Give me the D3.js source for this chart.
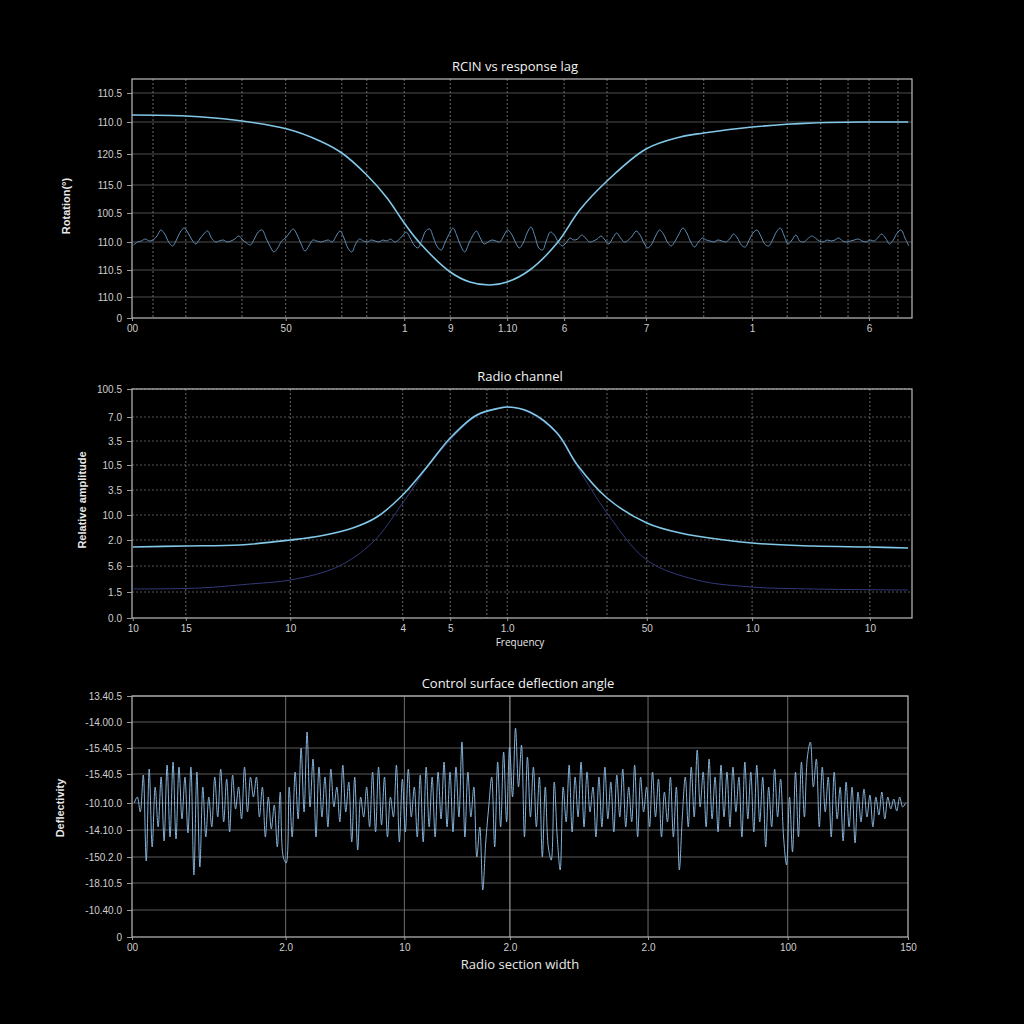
<!DOCTYPE html>
<html>
<head>
<meta charset="utf-8">
<script src="https://cdn.jsdelivr.net/npm/d3@7"></script>
<style>
  html, body { margin: 0; background: #000; }
  svg { display: block; }
  .tick text { fill: #cfcfcf; font-family: "Liberation Sans Narrow", "Liberation Sans", sans-serif; font-size: 10px; }
  .domain { display: none; }
  .tick line { stroke: #9a9a9a; }
  .title { fill: #f2f2f2; font-family: "Open Sans", "Noto Sans", sans-serif; font-size: 13px; }
  .ylab { fill: #e8e8e8; font-family: "Liberation Sans Narrow", "Liberation Sans", sans-serif; font-size: 11px; font-weight: bold; }
  .xlab { fill: #e8e8e8; font-family: "Open Sans", "Noto Sans", sans-serif; }
</style>
</head>
<body>
<svg id="chart" width="1024" height="1024"></svg>
<script>
// ─── Panel 1: RCIN vs response lag ───────────────────────────
const p1YTicks = [0, 21, 48, 76, 105, 133, 164, 196, 225];
const p1YLabels = ["0", "110.0", "110.5", "110.0", "100.5", "115.0", "120.5", "110.0", "110.5"];
const p1XTicks = [0, 19.7, 34.9, 40.8, 48.1, 55.4, 65.9, 79.5, 94.5];
const p1XLabels = ["00", "50", "1", "9", "1.10", "6", "7", "1", "6"];
const p1XGrid = [2.7, 6.9, 14.1, 19.7, 26.9, 30.1, 34.9, 40.8, 48.1, 55.4, 60.9, 65.9, 73.3, 79.5, 84.0, 88.3, 91.8, 94.5, 98.2];

// lag curve (x, level)
const p1CurveX = [0, 6.9, 13.1, 19.9, 24.1, 26.9, 30.1, 32.7, 34.9, 36.9, 40.8, 43.3, 45.9, 48.1, 51.0, 54.5, 57.4, 60.9, 65.9, 70.3, 73.3, 79.5, 87.3, 94.5, 99.5];
const p1CurveY = [203, 202, 198, 189, 177, 165, 143, 120, 95, 75, 46, 36, 33, 36, 48, 75, 108, 137, 169, 181, 185, 191, 195, 196, 196];

// RCIN noise samples (evenly spaced)
const p1Noise = [
  73, 76, 77, 79, 77, 78, 82, 88, 84, 76, 72, 78, 86, 90, 85, 78, 74, 79, 84, 87,
  80, 76, 77, 78, 76, 77, 79, 82, 78, 75, 73, 79, 86, 88, 80, 72, 66, 70, 77, 80,
  85, 89, 83, 74, 67, 72, 78, 77, 76, 77, 78, 76, 82, 87, 80, 70, 66, 74, 79, 77,
  76, 78, 77, 76, 78, 77, 79, 76, 78, 82, 86, 80, 73, 70, 78, 87, 89, 80, 71, 68,
  76, 84, 90, 82, 72, 66, 74, 82, 87, 80, 74, 76, 78, 77, 76, 82, 88, 84, 76, 70,
  75, 85, 91, 82, 70, 68, 78, 86, 83, 76, 72, 75, 80, 78, 79, 83, 80, 76, 77, 79,
  82, 78, 74, 80, 85, 80, 76, 78, 82, 87, 83, 75, 70, 74, 82, 88, 84, 76, 72, 77,
  84, 90, 85, 76, 71, 76, 80, 78, 77, 76, 78, 77, 76, 79, 84, 80, 73, 71, 78, 85,
  88, 82, 74, 72, 78, 86, 90, 82, 74, 78, 83, 77, 76, 79, 82, 80, 77, 76, 78, 77,
  78, 80, 77, 76, 77, 78, 79, 77, 76, 78, 77, 80, 84, 80, 74, 78, 85, 88, 80, 72
];

// ─── Panel 2: Radio channel ──────────────────────────────────
const p2YTicks = [0, 26, 52, 78, 103, 128, 153, 177, 201, 229];
const p2YLabels = ["0.0", "1.5", "5.6", "2.0", "10.0", "3.5", "10.5", "3.5", "7.0", "100.5"];
const p2XTicks = [0.1, 6.9, 20.3, 34.7, 40.8, 48.1, 66.0, 79.5, 94.6];
const p2XLabels = ["10", "15", "10", "4", "5", "1.0", "50", "1.0", "10"];
const p2XGrid = [6.9, 20.3, 34.7, 40.8, 45.5, 48.1, 60.9, 66.0, 79.5, 94.6];

const p2WideX = [0.1, 6.8, 13.8, 20.3, 24.1, 28.3, 31.4, 34.7, 37.8, 40.8, 44.2, 47.2, 48.1, 51.0, 54.5, 57.1, 60.9, 66.0, 70.3, 79.5, 87.3, 94.6, 99.5];
const p2WideY = [71, 72, 73, 78, 82, 90, 101, 123, 151, 180, 203, 210, 211, 206, 185, 153, 120, 95, 85, 75, 72, 71, 70];
const p2NarrowX = [0.1, 8.7, 15.1, 20.3, 26.3, 30.9, 34.7, 37.8, 40.8, 44.2, 48.1, 51.0, 54.5, 57.1, 60.9, 66.0, 72.4, 79.5, 87.3, 99.5];
const p2NarrowY = [29, 30, 34, 38, 51, 76, 115, 150, 178, 202, 211, 205, 184, 151, 105, 58, 38, 31, 29, 28];

// ─── Panel 3: Control surface deflection angle ───────────────
const p3YTicks = [0, 27, 54, 80, 107, 134, 163, 189, 215, 241];
const p3YLabels = ["0", "-10.40.0", "-18.10.5", "-150.2.0", "-14.10.0", "-10.10.0", "-15.40.5", "-15.40.5", "-14.00.0", "13.40.5"];
const p3XTicks = [0, 19.8, 35.1, 48.7, 66.5, 84.5, 100];
const p3XLabels = ["00", "2.0", "10", "2.0", "2.0", "100", "150"];
const p3XGrid = [19.8, 35.1, 48.7, 66.5, 84.5];

const p3Signal = [
  134, 140, 125, 162, 76, 168, 90, 150, 110, 160, 96, 172, 100, 175, 98, 170, 118, 160, 104, 170,
  62, 165, 70, 150, 100, 140, 110, 160, 120, 168, 115, 158, 105, 162, 128, 150, 118, 170, 125, 160,
  140, 160, 120, 150, 100, 140, 108, 132, 90, 145, 80, 74, 150, 100, 165, 118, 189, 125, 205, 130,
  178, 100, 170, 120, 160, 110, 168, 130, 150, 115, 172, 125, 155, 95, 160, 87, 140, 120, 150, 110,
  165, 105, 170, 112, 160, 100, 140, 120, 172, 95, 158, 105, 168, 120, 150, 100, 162, 95, 170, 110,
  160, 100, 165, 118, 175, 110, 165, 105, 170, 120, 195, 100, 165, 120, 150, 80, 110, 47, 95, 130,
  160, 90, 175, 110, 185, 115, 190, 140, 209, 150, 192, 100, 180, 120, 170, 110, 160, 80, 150, 90,
  77, 155, 100, 67, 150, 115, 172, 105, 160, 120, 175, 110, 165, 125, 150, 100, 160, 110, 170, 118,
  155, 105, 162, 120, 168, 110, 150, 115, 172, 100, 160, 125, 150, 110, 165, 120, 158, 100, 145, 115,
  160, 100, 150, 67, 120, 160, 110, 170, 120, 187, 130, 165, 110, 178, 118, 160, 105, 172, 120, 165,
  110, 170, 125, 160, 100, 175, 118, 165, 105, 172, 115, 160, 90, 150, 110, 168, 120, 158, 100, 72,
  140, 85, 165, 100, 175, 120, 180, 195, 150, 178, 110, 170, 125, 160, 100, 165, 118, 150, 96, 155,
  110, 150, 94, 145, 115, 148, 120, 142, 110, 140, 122, 145, 118, 140, 128, 138, 126, 140, 130, 134
];

// ─────────────────────────────────────────────────────────────
const svg = d3.select("#chart");

function makePanel(box) {
  const x = d3.scaleLinear().domain([0, 100]).range([box.left, box.right]);
  const y = d3.scaleLinear().domain([0, box.bottom - box.top]).range([box.bottom, box.top]);
  const g = svg.append("g");

  // grid
  g.append("g").selectAll("line").data(box.yTicks.slice(1)).join("line")
    .attr("x1", box.left).attr("x2", box.right)
    .attr("y1", d => y(d)).attr("y2", d => y(d))
    .attr("stroke", box.hGrid.color)
    .attr("stroke-dasharray", box.hGrid.dash)
    .attr("stroke-width", 1);
  g.append("g").selectAll("line").data(box.xGrid).join("line")
    .attr("x1", d => x(d)).attr("x2", d => x(d))
    .attr("y1", box.top).attr("y2", box.bottom)
    .attr("stroke", d => d === box.brightGrid ? "#b8b8b8" : box.vGrid.color)
    .attr("stroke-dasharray", d => d === box.brightGrid ? null : box.vGrid.dash)
    .attr("stroke-width", 1);

  // frame
  g.append("rect")
    .attr("x", box.left).attr("y", box.top)
    .attr("width", box.right - box.left).attr("height", box.bottom - box.top)
    .attr("fill", "none").attr("stroke", "#bdbdbd").attr("stroke-width", 1.2);

  // axes
  g.append("g").attr("transform", `translate(${box.left},0)`)
    .call(d3.axisLeft(y).tickValues(box.yTicks).tickFormat((d, i) => box.yLabels[i]).tickSize(5).tickPadding(5));
  g.append("g").attr("transform", `translate(0,${box.bottom})`)
    .call(d3.axisBottom(x).tickValues(box.xTicks).tickFormat((d, i) => box.xLabels[i]).tickSize(3).tickPadding(4));

  // title
  g.append("text").attr("class", "title")
    .attr("x", box.titleX).attr("y", box.top - 8)
    .attr("text-anchor", "middle").text(box.title);

  // y label
  g.append("text").attr("class", "ylab")
    .attr("transform", `translate(${box.yLabX},${box.yLabY}) rotate(-90)`)
    .attr("text-anchor", "middle").text(box.yLabel);

  return { g, x, y };
}

function addLine(panel, xs, ys, color, width, curve) {
  const pts = xs.map((v, i) => [v, ys[i]]);
  panel.g.append("path")
    .datum(pts)
    .attr("fill", "none")
    .attr("stroke", color)
    .attr("stroke-width", width)
    .attr("d", d3.line().x(d => panel.x(d[0])).y(d => panel.y(d[1])).curve(curve));
}

function addSamples(panel, values, color, width, x0, x1) {
  const s = d3.scaleLinear().domain([0, values.length - 1]).range([panel.x(x0), panel.x(x1)]);
  panel.g.append("path")
    .datum(values)
    .attr("fill", "none")
    .attr("stroke", color)
    .attr("stroke-width", width)
    .attr("stroke-linejoin", "round")
    .attr("d", d3.line().x((d, i) => s(i)).y(d => panel.y(d)).curve(d3.curveCatmullRom));
}

// Panel 1
const p1 = makePanel({
  left: 132, right: 912, top: 79, bottom: 318,
  yTicks: p1YTicks, yLabels: p1YLabels, xTicks: p1XTicks, xLabels: p1XLabels, xGrid: p1XGrid,
  hGrid: { color: "#4d4d4d", dash: null }, vGrid: { color: "#6a6a6a", dash: "2,2" },
  title: "RCIN vs response lag", titleX: 515,
  yLabel: "Rotation(°)", yLabX: 70, yLabY: 206
});
addSamples(p1, p1Noise, "#5f8db5", 1, 0.2, 99.6);
addLine(p1, p1CurveX, p1CurveY, "#82c8e8", 1.6, d3.curveCatmullRom);

// Panel 2
const p2 = makePanel({
  left: 132, right: 912, top: 389, bottom: 618,
  yTicks: p2YTicks, yLabels: p2YLabels, xTicks: p2XTicks, xLabels: p2XLabels, xGrid: p2XGrid,
  hGrid: { color: "#555", dash: "2,2" }, vGrid: { color: "#666", dash: "2,2" },
  title: "Radio channel", titleX: 520,
  yLabel: "Relative amplitude", yLabX: 86, yLabY: 500
});
addLine(p2, p2NarrowX, p2NarrowY, "#323a78", 1, d3.curveCatmullRom);
addLine(p2, p2WideX, p2WideY, "#82c8e8", 1.6, d3.curveCatmullRom);
p2.g.append("text").attr("class", "xlab")
  .attr("x", 520).attr("y", 646).attr("text-anchor", "middle")
  .attr("font-size", 10).text("Frequency");

// Panel 3
const p3 = makePanel({
  left: 132, right: 908, top: 696, bottom: 937,
  yTicks: p3YTicks, yLabels: p3YLabels, xTicks: p3XTicks, xLabels: p3XLabels, xGrid: p3XGrid,
  hGrid: { color: "#5a5a5a", dash: null }, vGrid: { color: "#6e6e6e", dash: null },
  brightGrid: 48.7,
  title: "Control surface deflection angle", titleX: 518,
  yLabel: "Deflectivity", yLabX: 64, yLabY: 808
});
addSamples(p3, p3Signal, "#86b2d8", 1, 0.3, 99.7);
p3.g.append("text").attr("class", "xlab")
  .attr("x", 520).attr("y", 969).attr("text-anchor", "middle")
  .attr("font-size", 13).text("Radio section width");
</script>
</body>
</html>
